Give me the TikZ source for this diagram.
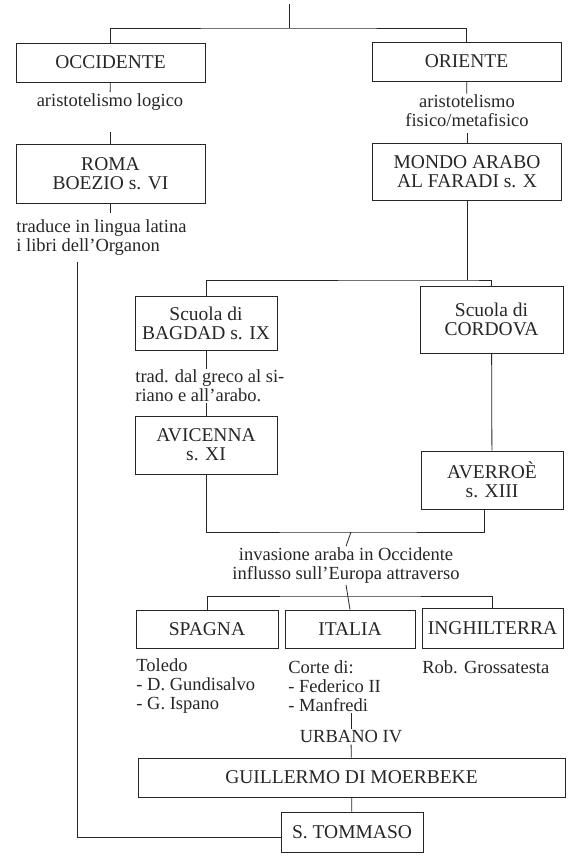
\documentclass[tikz,border=0pt]{standalone}
\usepackage{fontspec}
\setmainfont{Liberation Serif}
\begin{document}
\begin{tikzpicture}[x=1pt,y=-1pt,line width=0.8pt,black!85,
        box/.style={draw,align=center,inner sep=0pt,font=\fontsize{19.5}{19}\selectfont},
        txt/.style={inner sep=1pt,font=\fontsize{18.5}{19}\selectfont}]
    \useasboundingbox (0,0) rectangle (568,858);
    \coordinate (root) at (289,4);
    \coordinate (b1) at (289,28);
    \node[box,minimum width=189pt,minimum height=39pt] (occ) at (110.5,62.5) {OCCIDENTE};
    \node[box,minimum width=189pt,minimum height=39pt] (ori) at (466.5,61.5) {ORIENTE};
    \node[txt] (logico) at (110,102) {aristotelismo logico};
    \node[txt,align=center] (fisico) at (467,111) {aristotelismo\\fisico/metafisico};
    \node[box,minimum width=189pt,minimum height=59pt] (roma) at (110.5,173.5) {ROMA\\BOEZIO s. VI};
    \node[box,minimum width=189pt,minimum height=57pt] (arabo) at (467,171.5) {MONDO ARABO\\AL FARADI s. X};
    \node[txt,align=left,anchor=west] (traduce) at (15,237.5) {traduce in lingua latina\\i libri dell'Organon};
    \coordinate (ltop) at (77,262);
    \coordinate (b2) at (467,280);
    \node[box,minimum width=142pt,minimum height=54pt] (bagdad) at (206,323) {Scuola di\\BAGDAD s. IX};
    \node[box,minimum width=143pt,minimum height=67pt] (cordova) at (491.5,319.5) {Scuola di\\CORDOVA};
    \node[txt,align=left,anchor=west] (trad) at (134,386) {trad. dal greco al si-\\riano e all'arabo.};
    \node[box,minimum width=142pt,minimum height=58pt] (avicenna) at (206,445) {AVICENNA\\s. XI};
    \node[box,minimum width=142pt,minimum height=58pt] (averroe) at (492,480) {AVERROÈ\\s. XIII};
    \coordinate (j) at (351,532);
    \node[txt,align=center] (invasione) at (346,565.5) {invasione araba in Occidente\\influsso sull'Europa attraverso};
    \coordinate (b3) at (351,596);
    \node[box,minimum width=142pt,minimum height=38pt] (spagna) at (207,629) {SPAGNA};
    \node[box,minimum width=130pt,minimum height=38pt] (italia) at (350,629) {ITALIA};
    \node[box,minimum width=141pt,minimum height=40pt] (inghilterra) at (492.5,628) {INGHILTERRA};
    \node[txt,align=left,anchor=west] (toledo) at (135,686) {Toledo\\- D. Gundisalvo\\- G. Ispano};
    \node[txt,align=left,anchor=west] (corte) at (287,686) {Corte di:\\- Federico II\\- Manfredi};
    \node[txt,anchor=west] (rob) at (421,667) {Rob. Grossatesta};
    \node[txt] (urbano) at (351,737) {URBANO IV};
    \node[box,minimum width=427pt,minimum height=39pt] (guillermo) at (351.5,777.5) {GUILLERMO DI MOERBEKE};
    \node[box,minimum width=142pt,minimum height=40pt] (tommaso) at (352,832) {S. TOMMASO};

    \draw (root) -- (b1);
    \draw (occ.north) |- (b1) -| (ori.north);
    \draw (occ) -- (logico);
    \draw (roma.north) -- ++(0,-12);
    \draw (ori) -- (fisico);
    \draw (arabo.north) -- ++(0,-10);
    \draw (roma.south) -- ++(0,10);
    \draw (arabo.south) -- (b2);
    \draw (bagdad.north) |- (b2) -| (cordova.north);
    \draw (bagdad.south) -- (bagdad.south |- trad.north);
    \draw (avicenna.north) -- (avicenna.north |- trad.south);
    \draw (cordova) -- (averroe);
    \draw (avicenna.south) |- (j) -| ([xshift=-8pt]averroe.south);
    \draw (j) -- (invasione.north);
    \draw (invasione.south) -- (italia.north);
    \draw (spagna.north) |- (b3) -| (inghilterra.north);
    \draw (urbano.north) -- (urbano.north |- corte.south);
    \draw (urbano) -- (guillermo);
    \draw (guillermo) -- (tommaso);
    \draw (ltop) |- ([yshift=-5pt]tommaso.west);
\end{tikzpicture}
\end{document}
